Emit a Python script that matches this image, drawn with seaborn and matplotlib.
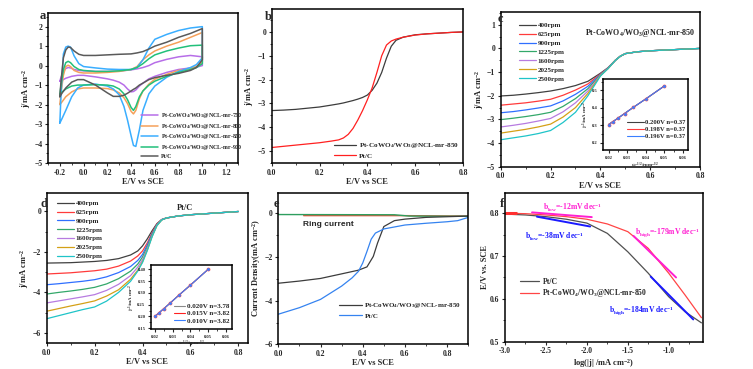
import matplotlib
matplotlib.use('Agg')
import matplotlib.pyplot as plt
from matplotlib.ticker import MultipleLocator
import seaborn as sns

# ---- panel a: CV loops (forward scan then reverse scan) ----
cv_x_fwd = [-0.2, -0.19, -0.17, -0.15, -0.13, -0.11, -0.08, -0.04, 0.0, 0.1, 0.2, 0.3, 0.4, 0.45,
            0.5, 0.55, 0.6, 0.7, 0.8, 0.9, 1.0]
cv_x_rev = [1.0, 0.95, 0.9, 0.8, 0.7, 0.6, 0.55, 0.5, 0.47, 0.44, 0.42, 0.4, 0.37, 0.34, 0.3,
            0.25, 0.2, 0.1, 0.0, -0.05, -0.1, -0.15, -0.18, -0.2]
cv_750 = [-0.8, -0.6, -0.3, -0.15, -0.1, -0.12, -0.2, -0.25, -0.27, -0.3, -0.3, -0.28, -0.22, -0.17,
          -0.1, 0.0, 0.15, 0.32, 0.45, 0.52, 0.45,
          0.0, -0.08, -0.12, -0.2, -0.35, -0.55, -0.68, -0.9, -1.05, -1.25, -1.33, -1.35, -1.2, -1.0,
          -0.85, -0.75, -0.68, -0.58, -0.5, -0.5, -0.55, -0.65, -0.75, -0.8]
cv_800 = [-2.0, -1.4, -0.5, -0.05, 0.02, -0.05, -0.25, -0.35, -0.38, -0.38, -0.35, -0.3, -0.2, -0.05,
          0.3, 0.55, 0.75, 1.0, 1.2, 1.45, 1.7,
          0.2, -0.05, -0.15, -0.25, -0.45, -0.7, -0.95, -1.3, -1.7, -2.3, -2.48, -2.35, -1.95, -1.65,
          -1.4, -1.25, -1.18, -1.15, -1.15, -1.2, -1.35, -1.6, -1.85, -2.0]
cv_850 = [-2.95, -1.5, 0.6, 0.95, 1.0, 0.95, 0.5, 0.1, -0.05, -0.12, -0.18, -0.2, -0.2, -0.1,
          0.3, 0.9, 1.35, 1.6, 1.8, 1.93, 2.0,
          0.4, 0.05, -0.1, -0.3, -0.6, -1.05, -1.45, -2.3, -3.3, -4.15, -4.1, -3.6, -2.8, -2.1,
          -1.5, -1.2, -1.05, -0.95, -1.0, -1.15, -1.6, -2.3, -2.7, -2.95]
cv_900 = [-1.5, -1.0, -0.2, 0.15, 0.22, 0.15, -0.05, -0.2, -0.25, -0.3, -0.3, -0.27, -0.2, -0.1,
          0.1, 0.35, 0.55, 0.75, 0.9, 1.02, 1.05,
          0.1, -0.1, -0.2, -0.35, -0.55, -0.8, -1.0, -1.3, -1.6, -2.1, -2.3, -2.15, -1.75, -1.45,
          -1.2, -1.05, -1.0, -0.98, -1.0, -1.0, -1.05, -1.2, -1.35, -1.5]
cv_ptc = [-1.6, -0.8, 0.4, 0.8, 0.95, 0.93, 0.75, 0.58, 0.52, 0.52, 0.55, 0.58, 0.6, 0.65,
          0.72, 0.85, 1.0, 1.2, 1.45, 1.65, 1.9,
          0.3, -0.1, -0.25, -0.4, -0.5, -0.62, -0.72, -0.9, -1.0, -1.15, -1.22, -1.3, -1.42, -1.52,
          -1.58, -1.58, -1.4, -1.0, -0.72, -0.72, -0.85, -1.15, -1.4, -1.6]

# ---- panel b: LSV at 1600 rpm ----
lsv_x = [0, 0.05, 0.1, 0.15, 0.2, 0.25, 0.28, 0.3, 0.32, 0.34, 0.36, 0.38, 0.4, 0.42, 0.44,
         0.46, 0.48, 0.5, 0.52, 0.55, 0.6, 0.65, 0.7, 0.75, 0.8]
lsv_850 = [-3.3, -3.28, -3.25, -3.2, -3.15, -3.07, -3.02, -2.98, -2.93, -2.88, -2.82, -2.75, -2.65,
           -2.45, -2.15, -1.7, -1.1, -0.6, -0.35, -0.22, -0.12, -0.08, -0.05, -0.02, 0.0]
lsv_ptc = [-4.85, -4.8, -4.75, -4.7, -4.65, -4.58, -4.53, -4.45, -4.3, -4.05, -3.7, -3.3, -2.85,
           -2.35, -1.7, -1.0, -0.55, -0.38, -0.3, -0.22, -0.13, -0.08, -0.05, -0.02, 0.0]

# ---- panel c: rpm series for Pt-CoWO4/WO3@NCL-mr-850 ----
rpm_labels = ['400rpm', '625rpm', '900rpm', '1225rpm', '1600rpm', '2025rpm', '2500rpm']
rpm_colors = ['#404040', '#ff3b3b', '#2f6fff', '#33a86a', '#b77be0', '#d4a017', '#1fc4c8']
c_x = [0, 0.05, 0.1, 0.15, 0.2, 0.25, 0.3, 0.35, 0.4, 0.43, 0.46, 0.48, 0.5, 0.55, 0.6, 0.7, 0.8]
c_400 = [-2.01, -1.98, -1.93, -1.87, -1.8, -1.7, -1.57, -1.39, -1.05, -0.82, -0.5, -0.33, -0.22, -0.14, -0.1, -0.05, 0.0]
c_625 = [-2.4, -2.35, -2.3, -2.23, -2.15, -1.98, -1.76, -1.5, -1.08, -0.83, -0.5, -0.33, -0.22, -0.14, -0.1, -0.05, 0.0]
c_900 = [-2.72, -2.67, -2.6, -2.52, -2.43, -2.22, -1.94, -1.6, -1.1, -0.84, -0.5, -0.33, -0.22, -0.14, -0.1, -0.05, 0.0]
c_1225 = [-3.01, -2.95, -2.88, -2.8, -2.7, -2.45, -2.12, -1.7, -1.12, -0.85, -0.5, -0.33, -0.22, -0.14, -0.1, -0.05, 0.0]
c_1600 = [-3.32, -3.25, -3.17, -3.07, -2.96, -2.68, -2.3, -1.8, -1.14, -0.85, -0.51, -0.33, -0.22, -0.14, -0.1, -0.05, 0.0]
c_2025 = [-3.58, -3.5, -3.42, -3.32, -3.2, -2.9, -2.5, -1.9, -1.15, -0.86, -0.51, -0.33, -0.22, -0.14, -0.1, -0.05, 0.0]
c_2500 = [-3.86, -3.78, -3.7, -3.6, -3.47, -3.13, -2.7, -2.0, -1.17, -0.86, -0.51, -0.33, -0.22, -0.14, -0.1, -0.05, 0.0]

# ---- panel d: rpm series for Pt/C ----
d_x = [0, 0.05, 0.1, 0.15, 0.2, 0.25, 0.3, 0.35, 0.38, 0.4, 0.42, 0.44, 0.46, 0.48, 0.5, 0.55, 0.6, 0.7, 0.8]
d_400 = [-2.55, -2.54, -2.53, -2.5, -2.47, -2.42, -2.33, -2.15, -1.95, -1.7, -1.35, -0.95, -0.6, -0.4, -0.32, -0.22, -0.16, -0.08, 0.0]
d_625 = [-3.09, -3.06, -3.03, -2.98, -2.93, -2.85, -2.7, -2.45, -2.2, -1.95, -1.55, -1.05, -0.62, -0.4, -0.32, -0.22, -0.16, -0.08, 0.0]
d_900 = [-3.62, -3.57, -3.51, -3.45, -3.37, -3.23, -3.02, -2.72, -2.42, -2.12, -1.65, -1.1, -0.65, -0.4, -0.32, -0.22, -0.16, -0.08, 0.0]
d_1225 = [-4.08, -4.0, -3.93, -3.85, -3.75, -3.58, -3.32, -2.95, -2.6, -2.25, -1.75, -1.15, -0.67, -0.41, -0.32, -0.22, -0.16, -0.08, 0.0]
d_1600 = [-4.52, -4.42, -4.32, -4.22, -4.11, -3.9, -3.6, -3.17, -2.75, -2.38, -1.83, -1.2, -0.68, -0.41, -0.32, -0.22, -0.16, -0.08, 0.0]
d_2025 = [-4.93, -4.8, -4.67, -4.55, -4.42, -4.18, -3.87, -3.35, -2.9, -2.48, -1.9, -1.23, -0.7, -0.42, -0.32, -0.22, -0.16, -0.08, 0.0]
d_2500 = [-5.3, -5.15, -5.0, -4.85, -4.72, -4.43, -4.0, -3.45, -2.95, -2.52, -1.93, -1.25, -0.7, -0.42, -0.32, -0.22, -0.16, -0.08, 0.0]

# ---- K-L insets ----
kl_x = [0.02, 0.0222, 0.025, 0.0286, 0.0333, 0.04, 0.05]
kl_c = [0.305, 0.321, 0.341, 0.368, 0.403, 0.451, 0.525]
kl_d = [0.200, 0.215, 0.233, 0.257, 0.289, 0.333, 0.400]
kl_c_labels = ['0.200V n=0.37', '0.198V n=0.37', '0.196V n=0.37']
kl_d_labels = ['0.020V n=3.78', '0.015V n=3.82', '0.010V n=3.82']

# ---- panel e: RRDE ----
e_x_850 = [0, 0.1, 0.2, 0.3, 0.38, 0.42, 0.45, 0.47, 0.5, 0.55, 0.6, 0.7, 0.8, 0.9]
e_850 = [-3.2, -3.1, -2.98, -2.77, -2.6, -2.45, -1.97, -1.36, -0.6, -0.33, -0.26, -0.18, -0.15, -0.12]
e_x_ptc = [0, 0.1, 0.2, 0.3, 0.35, 0.38, 0.4, 0.42, 0.44, 0.46, 0.5, 0.6, 0.7, 0.8, 0.85, 0.9]
e_ptc = [-4.62, -4.32, -3.94, -3.33, -2.95, -2.65, -2.27, -1.74, -1.18, -0.9, -0.71, -0.53, -0.45, -0.38, -0.33, -0.18]
ring_x_g = [0, 0.55, 0.62, 0.9]
ring_g = [-0.05, -0.06, -0.12, -0.13]
ring_x_r = [0.12, 0.6, 0.9]
ring_r = [-0.1, -0.1, -0.12]

# ---- panel f: Tafel ----
taf_x_ptc = [-3.0, -2.75, -2.5, -2.25, -2.0, -1.75, -1.5, -1.25, -1.0, -0.8, -0.6]
taf_ptc = [0.798, 0.796, 0.792, 0.786, 0.777, 0.753, 0.71, 0.66, 0.605, 0.57, 0.544]
taf_x_850 = [-3.0, -2.75, -2.5, -2.25, -2.0, -1.75, -1.5, -1.25, -1.0, -0.8, -0.6]
taf_850 = [0.8, 0.799, 0.796, 0.792, 0.786, 0.775, 0.757, 0.718, 0.66, 0.609, 0.556]
fit_low_850_x = [-2.67, -1.94]
fit_low_850 = [0.802, 0.791]
fit_low_ptc_x = [-2.61, -1.96]
fit_low_ptc = [0.792, 0.769]
fit_high_850_x = [-1.43, -0.91]
fit_high_850 = [0.747, 0.65]
fit_high_ptc_x = [-1.22, -0.70]
fit_high_ptc = [0.652, 0.552]

sns.set_style('ticks')
plt.rcParams['font.family'] = ['Liberation Serif', 'DejaVu Serif']
plt.rcParams['font.weight'] = 'bold'
plt.rcParams['axes.labelweight'] = 'bold'
plt.rcParams['mathtext.fontset'] = 'custom'
plt.rcParams['mathtext.rm'] = 'Liberation Serif:bold'
plt.rcParams['mathtext.it'] = 'Liberation Serif:italic:bold'
plt.rcParams['mathtext.bf'] = 'Liberation Serif:bold'
plt.rcParams['mathtext.default'] = 'rm'
plt.rcParams['axes.linewidth'] = 1.1

TICK = 5.5
LAB = 6


def style_axes(ax, xlim, ylim, xmaj, xmin, ymaj, ymin, size=TICK):
    ax.set_xlim(*xlim)
    ax.set_ylim(*ylim)
    ax.xaxis.set_major_locator(MultipleLocator(xmaj))
    ax.xaxis.set_minor_locator(MultipleLocator(xmin))
    ax.yaxis.set_major_locator(MultipleLocator(ymaj))
    ax.yaxis.set_minor_locator(MultipleLocator(ymin))
    ax.tick_params(which='major', direction='out', length=2.5, width=0.8, labelsize=size, pad=1.5)
    ax.tick_params(which='minor', direction='out', length=1.3, width=0.6)
    for sp in ax.spines.values():
        sp.set_visible(True)
        sp.set_color('black')


def line(ax, x, y, color, label=None, lw=0.9):
    sns.lineplot(x=x, y=y, ax=ax, color=color, lw=lw, label=label,
                 sort=False, estimator=None, legend=False)


def fmt1(v, pos):
    return f'{v:.1f}'


fig = plt.figure(figsize=(7.53, 3.69), dpi=100)

# ---------------- a ----------------
ax = fig.add_axes([0.0637, 0.5583, 0.2523, 0.4065])
names = ['750', '800', '850', '900']
cv_sets = [cv_750, cv_800, cv_850, cv_900]
cv_colors = ['#b76ee8', '#f5a05a', '#3aaeff', '#22c07a']
cv_x = cv_x_fwd + cv_x_rev
for n, ys, c in zip(names, cv_sets, cv_colors):
    line(ax, cv_x, ys, c, r'Pt-CoWO$_4$/WO$_3$@NCL-mr-' + n, lw=1.1)
line(ax, cv_x, cv_ptc, '#5a5a5a', 'Pt/C', lw=1.1)
style_axes(ax, (-0.3, 1.3), (-5, 2.7), 0.2, 0.1, 1, 0.5)
ax.xaxis.set_major_formatter(fmt1)
ax.set_xlabel('E/V vs SCE', fontsize=LAB, labelpad=1)
ax.set_ylabel(r'j/mA cm$^{-2}$', fontsize=LAB, labelpad=1)
ax.legend(loc='upper left', bbox_to_anchor=(0.47, 0.37), fontsize=4.2, frameon=False,
          handlelength=3.0, labelspacing=0.3, borderpad=0.1, handletextpad=0.4)
fig.text(0.053, 0.948, 'a', fontsize=9, fontweight='bold')

# ---------------- b ----------------
ax = fig.add_axes([0.3608, 0.5583, 0.2541, 0.4165])
line(ax, lsv_x, lsv_850, '#3c3c3c', r'Pt-CoWO$_4$/WO$_3$@NCL-mr-850')
line(ax, lsv_x, lsv_ptc, '#ff2020', 'Pt/C')
style_axes(ax, (0, 0.8), (-5.5, 0.95), 0.2, 0.1, 1, 0.5)
ax.xaxis.set_major_formatter(fmt1)
ax.set_xlabel('E/V vs SCE', fontsize=LAB, labelpad=1)
ax.set_ylabel(r'j/mA cm$^{-2}$', fontsize=LAB, labelpad=1)
ax.legend(loc='lower right', bbox_to_anchor=(1.0, 0.0), fontsize=5.2, frameon=False,
          handlelength=3.0, labelspacing=0.3, borderpad=0.1, handletextpad=0.4)
fig.text(0.352, 0.945, 'b', fontsize=9, fontweight='bold')

# ---------------- c ----------------
ax = fig.add_axes([0.665, 0.5482, 0.2647, 0.42])
for ys, lab, col in zip([c_400, c_625, c_900, c_1225, c_1600, c_2025, c_2500], rpm_labels, rpm_colors):
    line(ax, c_x, ys, col, lab)
style_axes(ax, (0, 0.8), (-5, 1.55), 0.2, 0.1, 1, 0.5)
ax.xaxis.set_major_formatter(fmt1)
ax.set_xlabel('E/V vs SCE', fontsize=LAB, labelpad=1)
ax.set_ylabel(r'j/mA cm$^{-2}$', fontsize=LAB, labelpad=1)
ax.legend(loc='upper left', bbox_to_anchor=(0.07, 0.96), fontsize=5, frameon=False,
          handlelength=2.4, labelspacing=0.45, borderpad=0.1, handletextpad=0.3)
ax.text(0.7, 0.86, r'Pt-CoWO$_4$/WO$_3$@NCL-mr-850', transform=ax.transAxes,
        fontsize=5.8, ha='center', va='center')
fig.text(0.661, 0.94, 'c', fontsize=9, fontweight='bold')

ins = fig.add_axes([0.8008, 0.5935, 0.1129, 0.1924])
for lab, col in zip(kl_c_labels, ['#404040', '#ff3b3b', '#3a7fff']):
    line(ins, kl_x, kl_c, col, lab, lw=0.8)
ins.scatter(kl_x, kl_c, s=3, color='#ff5050', zorder=3)
ins.scatter(kl_x, kl_c, s=1.2, color='#3a7fff', zorder=4)
style_axes(ins, (0.017, 0.0628), (0.16, 0.565), 0.01, 0.005, 0.1, 0.05, size=3.3)
ins.xaxis.set_major_formatter(lambda v, p: f'{v:.2f}')
ins.set_xlabel(r'$\omega^{-1/2}$/rpm$^{-1/2}$', fontsize=3.5, labelpad=0.5)
ins.set_ylabel(r'j$^{-1}$/mA cm$^{-2}$', fontsize=3.5, labelpad=0.5)
ins.legend(loc='lower right', bbox_to_anchor=(1.02, 0.1), fontsize=4.8, frameon=False,
           handlelength=2.6, labelspacing=0.2, borderpad=0.1, handletextpad=0.2)

# ---------------- d ----------------
ax = fig.add_axes([0.062, 0.0705, 0.2673, 0.4057])
for ys, lab, col in zip([d_400, d_625, d_900, d_1225, d_1600, d_2025, d_2500], rpm_labels, rpm_colors):
    line(ax, d_x, ys, col, lab)
style_axes(ax, (0, 0.84), (-6.5, 0.9), 0.2, 0.1, 2, 1)
ax.xaxis.set_major_formatter(fmt1)
ax.set_xlabel('E/V vs SCE', fontsize=LAB, labelpad=1)
ax.set_ylabel(r'j/mA cm$^{-2}$', fontsize=LAB, labelpad=1)
ax.legend(loc='upper left', bbox_to_anchor=(0.03, 0.98), fontsize=5, frameon=False,
          handlelength=2.4, labelspacing=0.42, borderpad=0.1, handletextpad=0.3)
ax.text(0.685, 0.9, 'Pt/C', transform=ax.transAxes, fontsize=6, ha='center', va='center')
fig.text(0.054, 0.44, 'd', fontsize=9, fontweight='bold')

ins = fig.add_axes([0.2005, 0.1084, 0.1072, 0.1734])
for lab, col in zip(kl_d_labels, ['#8a8a8a', '#ff2020', '#3a7fff']):
    line(ins, kl_x, kl_d, col, lab, lw=0.8)
ins.scatter(kl_x, kl_d, s=3, color='#ff5050', zorder=3)
ins.scatter(kl_x, kl_d, s=1.2, color='#3a7fff', zorder=4)
style_axes(ins, (0.0178, 0.0632), (0.147, 0.418), 0.01, 0.005, 0.05, 0.025, size=3.3)
ins.xaxis.set_major_formatter(lambda v, p: f'{v:.2f}')
ins.yaxis.set_major_formatter(lambda v, p: f'{v:.2f}')
ins.set_xlabel(r'$\omega^{-1/2}$/rpm$^{-1/2}$', fontsize=3.5, labelpad=0.3)
ins.set_ylabel(r'j$^{-1}$/mA cm$^{-2}$', fontsize=3.5, labelpad=0.5)
ins.legend(loc='lower right', bbox_to_anchor=(1.02, 0.02), fontsize=5, frameon=False,
           handlelength=1.6, labelspacing=0.2, borderpad=0.1, handletextpad=0.2)

# ---------------- e ----------------
ax = fig.add_axes([0.3696, 0.0669, 0.2523, 0.4108])
line(ax, ring_x_r, ring_r, '#e8553f', lw=1.0)
line(ax, ring_x_g, ring_g, '#2e9e5e', lw=1.0)
line(ax, e_x_850, e_850, '#3c3c3c', r'Pt-CoWO$_4$/WO$_3$@NCL-mr-850')
line(ax, e_x_ptc, e_ptc, '#3583f0', 'Pt/C')
style_axes(ax, (0, 0.9), (-6, 0.95), 0.2, 0.1, 2, 1)
ax.xaxis.set_major_formatter(fmt1)
ax.set_xlabel('E/V vs SCE', fontsize=LAB, labelpad=1)
ax.set_ylabel(r'Current Density(mA cm$^{-2}$)', fontsize=LAB, labelpad=1)
ax.text(0.13, 0.78, 'Ring current', transform=ax.transAxes, fontsize=6,
        family='Liberation Sans', fontweight='bold')
h, l = ax.get_legend_handles_labels()
ax.legend(h[-2:], l[-2:], loc='upper left', bbox_to_anchor=(0.3, 0.31), fontsize=5.0, frameon=False,
          handlelength=3.2, labelspacing=0.35, borderpad=0.1, handletextpad=0.4)
fig.text(0.363, 0.44, 'e', fontsize=9, fontweight='bold')

# ---------------- f ----------------
ax = fig.add_axes([0.6707, 0.074, 0.263, 0.4038])
line(ax, taf_x_ptc, taf_ptc, '#505050', 'Pt/C')
line(ax, taf_x_850, taf_850, '#ff4545', r'Pt-CoWO$_4$/WO$_3$@NCL-mr-850')
ax.plot([-3.0, -2.85], [0.8, 0.8], color='#ff3030', lw=2.2, solid_capstyle='butt')
line(ax, fit_low_850_x, fit_low_850, '#ff1fd2', lw=1.4)
line(ax, fit_low_ptc_x, fit_low_ptc, '#1a1aff', lw=1.4)
line(ax, fit_high_850_x, fit_high_850, '#ff1fd2', lw=1.4)
line(ax, fit_high_ptc_x, fit_high_ptc, '#1a1aff', lw=1.4)
style_axes(ax, (-3.0, -0.58), (0.5, 0.848), 0.5, 0.25, 0.1, 0.05)
ax.xaxis.set_major_formatter(fmt1)
ax.yaxis.set_major_formatter(fmt1)
ax.set_xlabel(r'log(|j| /mA cm$^{-2}$)', fontsize=LAB, labelpad=1)
ax.set_ylabel('E/V vs. SCE', fontsize=LAB, labelpad=1)
ax.text(-2.535, 0.812, r'b$_{low}$=-12mV dec$^{-1}$', color='#ff1fd2', fontsize=5.5, va='center')
ax.text(-2.755, 0.745, r'b$_{low}$=-38mV dec$^{-1}$', color='#1a1aff', fontsize=5.5, va='center')
ax.text(-1.41, 0.754, r'b$_{high}$=-179mV dec$^{-1}$', color='#ff1fd2', fontsize=5.5, va='center')
ax.text(-1.727, 0.572, r'b$_{high}$=-184mV dec$^{-1}$', color='#1a1aff', fontsize=5.5, va='center')
h, l = ax.get_legend_handles_labels()
ax.legend(h[:2], l[:2], loc='upper left', bbox_to_anchor=(0.05, 0.46), fontsize=5.5, frameon=False,
          handlelength=2.6, labelspacing=0.2, borderpad=0.1, handletextpad=0.4)
fig.text(0.664, 0.44, 'f', fontsize=9, fontweight='bold')

fig.savefig('out.png', dpi=100)
